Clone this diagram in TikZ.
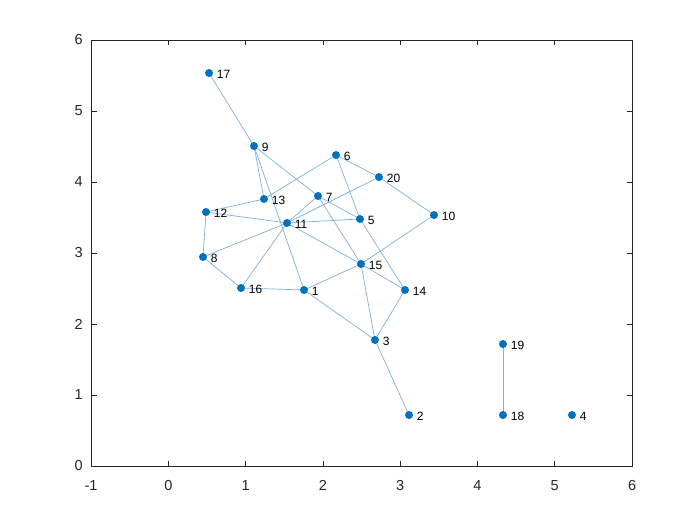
\documentclass[tikz,border=0pt]{standalone}
\usepackage{fontspec}
\setmainfont{Liberation Sans}
\definecolor{nodeblue}{RGB}{0,114,189}
\definecolor{edgeblue}{RGB}{125,178,218}
\definecolor{axisgray}{RGB}{38,38,38}
\begin{document}
\begin{tikzpicture}[x=77.29pt,y=71pt,
  dot/.style={circle,fill=nodeblue,inner sep=0pt,minimum size=8pt,
    label={[font=\fontsize{12}{12}\selectfont,inner sep=0pt,anchor=west,xshift=3.5pt,yshift=-1.5pt]right:#1}},
  edge/.style={draw=edgeblue,line width=0.7pt},
  ticklab/.style={font=\fontsize{14.5}{14.5}\selectfont,text=axisgray,inner sep=0pt}]
\useasboundingbox[fill=white] (-168.3pt,-59pt) rectangle (531.7pt,466pt);
% axes
\draw[axisgray,line width=0.6pt] (-1,0) rectangle (6,6);
\foreach \x in {-1,0,...,6}{
  \draw[axisgray,line width=0.6pt] (\x,0) -- ++(0,5.5pt);
  \draw[axisgray,line width=0.6pt] (\x,6) -- ++(0,-5.5pt);
  \node[ticklab,anchor=north] at ([yshift=-14pt]\x,0) {\x};
}
\foreach \y in {0,...,6}{
  \draw[axisgray,line width=0.6pt] (-1,\y) -- ++(5.5pt,0);
  \draw[axisgray,line width=0.6pt] (6,\y) -- ++(-5.5pt,0);
  \node[ticklab,anchor=east] at ([xshift=-8pt]-1,\y) {\y};
}
% node coordinates
\coordinate (p1) at (1.756,2.479);
\coordinate (p2) at (3.115,0.718);
\coordinate (p3) at (2.674,1.775);
\coordinate (p4) at (5.223,0.718);
\coordinate (p5) at (2.480,3.479);
\coordinate (p6) at (2.170,4.380);
\coordinate (p7) at (1.937,3.803);
\coordinate (p8) at (0.449,2.944);
\coordinate (p9) at (1.109,4.507);
\coordinate (p10) at (3.438,3.535);
\coordinate (p11) at (1.536,3.423);
\coordinate (p12) at (0.488,3.577);
\coordinate (p13) at (1.238,3.761);
\coordinate (p14) at (3.063,2.479);
\coordinate (p15) at (2.493,2.845);
\coordinate (p16) at (0.941,2.507);
\coordinate (p17) at (0.527,5.535);
\coordinate (p18) at (4.330,0.718);
\coordinate (p19) at (4.330,1.718);
\coordinate (p20) at (2.726,4.070);
% edges
\foreach \a/\b in {17/9,9/13,9/1,9/7,7/5,6/13,6/20,6/5,5/14,20/10,20/11,12/13,12/11,12/8,8/11,8/16,16/1,16/11,11/5,11/7,11/15,7/15,15/10,15/14,15/1,15/3,1/3,14/3,3/2,19/18}
  \draw[edge] (p\a) -- (p\b);
% nodes
\foreach \i in {1,...,20}
  \node[dot=\i] (n\i) at (p\i) {};
\end{tikzpicture}
\end{document}
